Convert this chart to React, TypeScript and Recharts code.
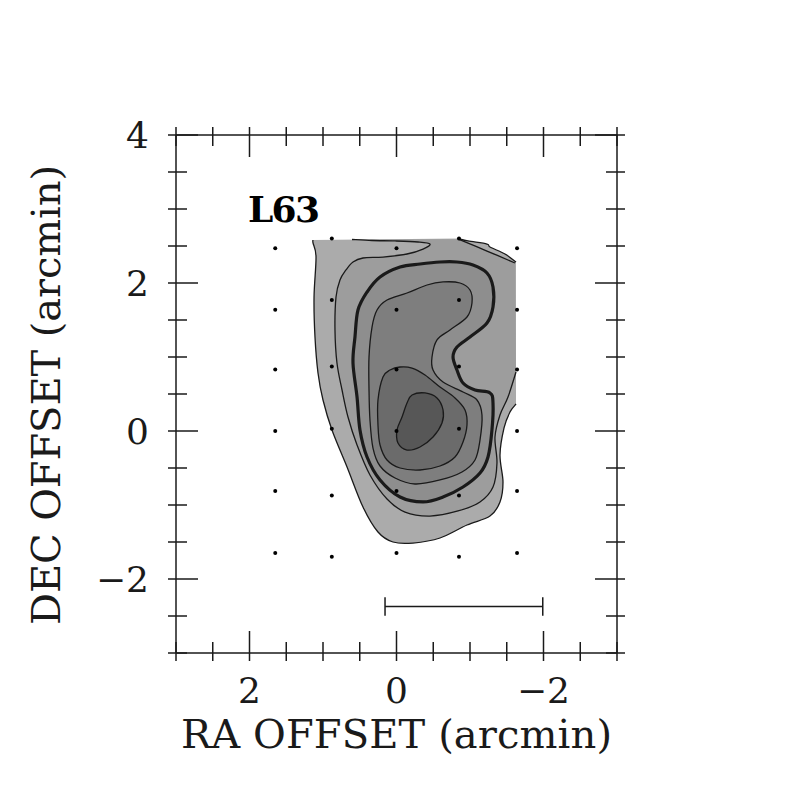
import React from "react";
import {
  ScatterChart,
  Scatter,
  XAxis,
  YAxis,
  ReferenceLine,
} from "recharts";

// ---- data (RA offset, DEC offset in arcmin) ----
const xTicks = [3, 2.5, 2, 1.5, 1, 0.5, 0, -0.5, -1, -1.5, -2, -2.5, -3];
const yTicks = [-3, -2.5, -2, -1.5, -1, -0.5, 0, 0.5, 1, 1.5, 2, 2.5, 3, 3.5, 4];

// observed grid positions
const gridDots = [
  [1.65, 2.47], [0.88, 2.6], [0, 2.47], [-0.85, 2.6], [-1.64, 2.47],
  [1.65, 1.64], [0.88, 1.77], [0, 1.64], [-0.85, 1.77], [-1.64, 1.64],
  [1.65, 0.83], [0.88, 0.87], [0, 0.83], [-0.85, 0.87], [-1.64, 0.83],
  [1.65, 0], [0.88, 0.03], [0, 0], [-0.85, 0.03], [-1.64, 0],
  [1.65, -0.81], [0.88, -0.87], [0, -0.81], [-0.85, -0.87], [-1.64, -0.81],
  [1.65, -1.65], [0.88, -1.7], [0, -1.65], [-0.85, -1.7], [-1.64, -1.65],
];

// level 1 (outer boundary)
const level1Line = [
  [-1.626, 0.365], [-1.544, 0.257], [-1.463, 0.041], [-1.408, -0.324],
  [-1.449, -0.689], [-1.408, -0.959], [-1.272, -1.149], [-0.959, -1.27],
  [-0.592, -1.446], [-0.224, -1.514], [0.048, -1.5], [0.252, -1.365],
  [0.456, -1.027], [0.673, -0.486], [0.878, 0.014], [1.0, 0.419],
  [1.068, 0.784], [1.109, 1.27], [1.122, 1.811], [1.095, 2.351],
  [1.136, 2.541], [1.136, 2.581],
];
const level1TopRight = [
  [-0.85, 2.6], [-0.973, 2.568], [-1.231, 2.527], [-1.272, 2.486],
  [-1.476, 2.392], [-1.626, 2.284],
];

// level 2
const level2Line = [
  [-1.626, 0.797], [-1.517, 0.459], [-1.408, 0.216], [-1.34, -0.081],
  [-1.367, -0.432], [-1.313, -0.757], [-1.136, -0.959], [-0.837, -1.081],
  [-0.456, -1.149], [-0.116, -1.095], [0.129, -0.919], [0.361, -0.595],
  [0.537, -0.189], [0.66, 0.189], [0.741, 0.554], [0.81, 0.919],
  [0.837, 1.365], [0.823, 1.811], [0.769, 2.041], [0.687, 2.176],
  [0.592, 2.284], [0.456, 2.338], [0.184, 2.351], [-0.143, 2.392],
  [-0.361, 2.459], [-0.456, 2.527], [-0.293, 2.554], [0.02, 2.568],
  [0.333, 2.574], [0.605, 2.588],
];
const level2TopRight = [[-0.85, 2.59], [-1.231, 2.432], [-1.612, 2.27]];

// level 3 (thick)
const level3 = [
  [-0.592, 2.284], [-0.823, 2.284], [-1.041, 2.243], [-1.231, 2.135],
  [-1.313, 1.946], [-1.313, 1.676], [-1.231, 1.459], [-1.0, 1.27],
  [-0.823, 1.135], [-0.769, 1.0], [-0.823, 0.824], [-0.905, 0.649],
  [-1.068, 0.554], [-1.272, 0.514], [-1.313, 0.378], [-1.299, 0.014],
  [-1.245, -0.351], [-1.136, -0.568], [-0.905, -0.757], [-0.633, -0.892],
  [-0.361, -0.959], [-0.048, -0.892], [0.224, -0.662], [0.401, -0.351],
  [0.497, 0.014], [0.537, 0.459], [0.592, 0.919], [0.565, 1.27],
  [0.524, 1.635], [0.401, 1.878], [0.224, 2.081], [-0.048, 2.216],
  [-0.32, 2.257],
];

// level 4
const level4 = [
  [0.129, 1.77], [-0.143, 1.865], [-0.415, 1.973], [-0.633, 2.014],
  [-0.864, 2.0], [-1.0, 1.905], [-1.027, 1.73], [-0.959, 1.541],
  [-0.728, 1.365], [-0.551, 1.23], [-0.483, 1.0], [-0.497, 0.824],
  [-0.633, 0.662], [-0.905, 0.527], [-1.095, 0.419], [-1.163, 0.216],
  [-1.136, -0.122], [-1.068, -0.392], [-0.891, -0.554], [-0.592, -0.662],
  [-0.252, -0.716], [0.02, -0.635], [0.224, -0.473], [0.32, -0.23],
  [0.361, 0.149], [0.374, 0.554], [0.374, 1.0], [0.333, 1.405],
  [0.265, 1.635],
];

// level 5
const level5 = [
  [0.184, 0.73], [0.088, 0.824], [-0.048, 0.865], [-0.211, 0.851],
  [-0.388, 0.757], [-0.592, 0.595], [-0.796, 0.446], [-0.932, 0.284],
  [-0.959, 0.081], [-0.905, -0.149], [-0.796, -0.351], [-0.592, -0.473],
  [-0.32, -0.527], [-0.048, -0.5], [0.129, -0.392], [0.224, -0.189],
  [0.252, 0.081], [0.252, 0.419],
];

// level 6 (peak)
const level6 = [
  [-0.211, 0.486], [-0.388, 0.514], [-0.551, 0.446], [-0.633, 0.284],
  [-0.619, 0.108], [-0.497, -0.081], [-0.32, -0.216], [-0.143, -0.257],
  [-0.02, -0.162], [-0.007, 0.014], [-0.075, 0.189], [-0.143, 0.378],
];

const levelGreys = ["#ababab", "#9d9d9d", "#8e8e8e", "#7e7e7e", "#6b6b6b", "#575757"];

// scale bar
const scaleBarX = [0.156, -1.99];
const scaleBarY = -2.37;
const scaleBarCap = 0.125;

const FONT = "'DejaVu Serif', serif";
const INK = "#1a1a1a";

const toPts = (arr: number[][]) => arr.map(([x, y]) => ({ x, y }));

type P = { x: number; y: number };

function crPath(pts: P[], closed: boolean) {
  const n = pts.length;
  if (n < 2) return "";
  const get = (i: number) =>
    closed ? pts[(i + n) % n] : pts[Math.max(0, Math.min(n - 1, i))];
  let d = `M${pts[0].x},${pts[0].y}`;
  const segs = closed ? n : n - 1;
  for (let i = 0; i < segs; i++) {
    const p0 = get(i - 1), p1 = get(i), p2 = get(i + 1), p3 = get(i + 2);
    const c1x = p1.x + (p2.x - p0.x) / 6, c1y = p1.y + (p2.y - p0.y) / 6;
    const c2x = p2.x - (p3.x - p1.x) / 6, c2y = p2.y - (p3.y - p1.y) / 6;
    d += ` C${c1x},${c1y} ${c2x},${c2y} ${p2.x},${p2.y}`;
  }
  if (closed) d += " Z";
  return d;
}

// smooth contour part followed by straight map-edge part
const edgeFill = (smoothCount: number, fill: string) => (props: any) => {
  const pts: P[] = props.points || [];
  const d =
    crPath(pts.slice(0, smoothCount), false) +
    pts.slice(smoothCount).map((p) => ` L${p.x},${p.y}`).join("") +
    " Z";
  return <path d={d} fill={fill} stroke="none" />;
};

const contour = (closed: boolean, fill: string, width: number) => (props: any) => (
  <path
    d={crPath(props.points || [], closed)}
    fill={fill}
    stroke={INK}
    strokeWidth={width}
    strokeLinejoin="round"
  />
);

const noShape = () => <g />;

const fmt = (v: number) => (v < 0 ? `\u2212${Math.abs(v)}` : `${v}`);
const isMajor = (v: number) => Math.abs(v % 2) < 1e-6;

const makeTick = (side: "bottom" | "top" | "left" | "right") => (props: any) => {
  const { x, y, payload } = props;
  const v = payload.value;
  const major = isMajor(v);
  const inner = major ? 22 : 11;
  const outer = 8;
  let line;
  let label = null;
  if (side === "bottom") {
    line = <line x1={x} x2={x} y1={y - inner} y2={y + outer} />;
    if (major)
      label = (
        <text x={x} y={y + 50} textAnchor="middle" fontSize={36} fontFamily={FONT} fill={INK} stroke="none">
          {fmt(v)}
        </text>
      );
  } else if (side === "top") {
    line = <line x1={x} x2={x} y1={y - outer} y2={y + inner} />;
  } else if (side === "left") {
    line = <line x1={x - outer} x2={x + inner} y1={y} y2={y} />;
    if (major)
      label = (
        <text x={x - 27} y={y + 13} textAnchor="end" fontSize={36} fontFamily={FONT} fill={INK} stroke="none">
          {fmt(v)}
        </text>
      );
  } else {
    line = <line x1={x - inner} x2={x + outer} y1={y} y2={y} />;
  }
  return (
    <g stroke={INK} strokeWidth={1.5}>
      {line}
      {label}
    </g>
  );
};

const axisLine = { stroke: INK, strokeWidth: 1.5 };

export default function App() {
  return (
    <div style={{ position: "absolute", left: 0, top: 0, width: 792, height: 792, background: "#fff" }}>
      <ScatterChart
        width={792}
        height={792}
        margin={{ top: 134, right: 174, bottom: 138, left: 175 }}
      >
        <XAxis
          xAxisId={0}
          type="number"
          dataKey="x"
          domain={[-3, 3]}
          reversed
          allowDataOverflow
          ticks={xTicks}
          interval={0}
          height={1}
          tickSize={0}
          tickMargin={0}
          tickLine={false}
          axisLine={axisLine}
          tick={makeTick("bottom")}
        />
        <XAxis
          xAxisId="top"
          orientation="top"
          type="number"
          dataKey="x"
          domain={[-3, 3]}
          reversed
          allowDataOverflow
          ticks={xTicks}
          interval={0}
          height={1}
          tickSize={0}
          tickMargin={0}
          tickLine={false}
          axisLine={axisLine}
          tick={makeTick("top")}
        />
        <YAxis
          yAxisId={0}
          type="number"
          dataKey="y"
          domain={[-3, 4]}
          allowDataOverflow
          ticks={yTicks}
          interval={0}
          width={1}
          tickSize={0}
          tickMargin={0}
          tickLine={false}
          axisLine={axisLine}
          tick={makeTick("left")}
        />
        <YAxis
          yAxisId="right"
          orientation="right"
          type="number"
          dataKey="y"
          domain={[-3, 4]}
          allowDataOverflow
          ticks={yTicks}
          interval={0}
          width={1}
          tickSize={0}
          tickMargin={0}
          tickLine={false}
          axisLine={axisLine}
          tick={makeTick("right")}
        />

        {/* filled levels */}
        <Scatter
          data={toPts([...level1Line, ...level1TopRight])}
          line={edgeFill(level1Line.length, levelGreys[0])}
          shape={noShape}
          isAnimationActive={false}
        />
        <Scatter
          data={toPts([...level2Line, ...level2TopRight])}
          line={edgeFill(level2Line.length, levelGreys[1])}
          shape={noShape}
          isAnimationActive={false}
        />
        <Scatter data={toPts(level1Line)} line={contour(false, "none", 1.3)} shape={noShape} isAnimationActive={false} />
        <Scatter data={toPts(level1TopRight)} line={contour(false, "none", 1.3)} shape={noShape} isAnimationActive={false} />
        <Scatter data={toPts(level2Line)} line={contour(false, "none", 1.3)} shape={noShape} isAnimationActive={false} />
        <Scatter data={toPts(level2TopRight)} line={contour(false, "none", 1.3)} shape={noShape} isAnimationActive={false} />
        <Scatter data={toPts(level3)} line={contour(true, levelGreys[2], 3.2)} shape={noShape} isAnimationActive={false} />
        <Scatter data={toPts(level4)} line={contour(true, levelGreys[3], 1.3)} shape={noShape} isAnimationActive={false} />
        <Scatter data={toPts(level5)} line={contour(true, levelGreys[4], 1.3)} shape={noShape} isAnimationActive={false} />
        <Scatter data={toPts(level6)} line={contour(true, levelGreys[5], 1.3)} shape={noShape} isAnimationActive={false} />

        {/* observed positions */}
        <Scatter
          data={toPts(gridDots)}
          shape={(p: any) => <circle cx={p.cx} cy={p.cy} r={2} fill="#000" />}
          isAnimationActive={false}
        />

        {/* scale bar */}
        <ReferenceLine
          segment={[{ x: scaleBarX[0], y: scaleBarY }, { x: scaleBarX[1], y: scaleBarY }]}
          stroke={INK}
          strokeWidth={1.5}
        />
        {scaleBarX.map((bx) => (
          <ReferenceLine
            key={bx}
            segment={[{ x: bx, y: scaleBarY + scaleBarCap }, { x: bx, y: scaleBarY - scaleBarCap }]}
            stroke={INK}
            strokeWidth={1.5}
          />
        ))}

        <text x={248} y={222} fontSize={36} fontWeight="bold" fontFamily={FONT} fill="#000" textLength={72}>
          L63
        </text>
        <text x={396.5} y={748} textAnchor="middle" fontSize={40} fontFamily={FONT} fill={INK} textLength={431}>
          RA OFFSET (arcmin)
        </text>
        <text
          x={60}
          y={395}
          textAnchor="middle"
          fontSize={40}
          fontFamily={FONT}
          fill={INK}
          textLength={460}
          transform="rotate(-90 60 395)"
        >
          DEC OFFSET (arcmin)
        </text>
      </ScatterChart>
    </div>
  );
}
